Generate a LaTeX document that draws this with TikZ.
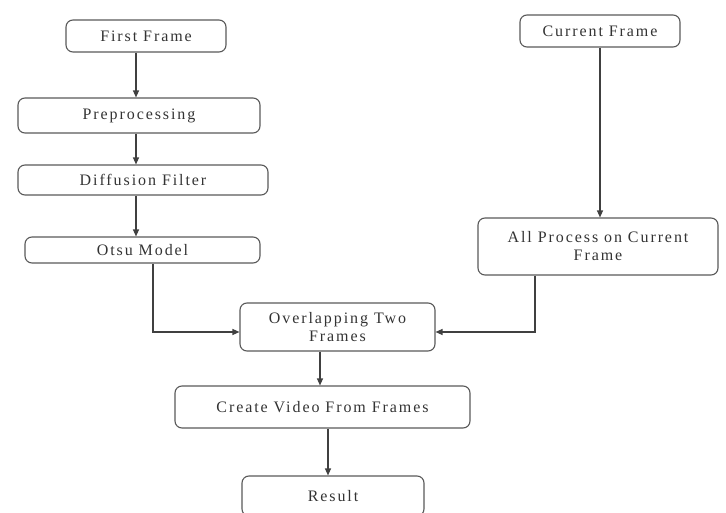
\documentclass[tikz,border=0pt]{standalone}
\usepackage{fontspec}
\setmainfont{Liberation Serif}[LetterSpace=12]
\usepackage{tikz}
\usetikzlibrary{arrows.meta,calc}
\tikzset{
  stage/.style = {rectangle, rounded corners=7pt, draw=black!65, line width=1.1pt,
                  text=black!80, font=\fontsize{16}{18}\selectfont, align=center,
                  inner sep=0pt},
  flow/.style  = {draw=black!75, line width=1.2pt,
                  -{Triangle[length=7pt,width=6pt]}},
}

\begin{document}
\begin{tikzpicture}[x=1pt,y=-1pt]
\useasboundingbox (0,0) rectangle (726,513);

%── left branch: first frame ───────────────────────────────────────
\node[stage, minimum width=160pt, minimum height=32pt] (ff)   at (146,36)    {First Frame};
\node[stage, minimum width=242pt, minimum height=35pt] (pre)  at (139,115.5) {Preprocessing};
\node[stage, minimum width=250pt, minimum height=30pt] (dif)  at (143,180)   {Diffusion Filter};
\node[stage, minimum width=235pt, minimum height=26pt] (otsu) at (142.5,250) {Otsu Model};

%── right branch: current frame ─────────────────────────────────────
\node[stage, minimum width=160pt, minimum height=32pt] (cf)  at (600,31)    {Current Frame};
\node[stage, minimum width=240pt, minimum height=57pt] (apc) at (598,246.5) {All Process on Current\\Frame};

%── merge and output ───────────────────────────────────────────────
\node[stage, minimum width=195pt, minimum height=48pt] (ovl) at (337.5,327) {Overlapping Two\\Frames};
\node[stage, minimum width=295pt, minimum height=42pt] (vid) at (322.5,407) {Create Video From Frames};
\node[stage, minimum width=182pt, minimum height=40pt] (res) at (333,496)   {Result};

% connector columns / join rows
\coordinate (lx) at (136,0);
\coordinate (jl) at (153,332);
\coordinate (jr) at (535,332);
\coordinate (mx) at (320,0);
\coordinate (rx) at (328,0);

% left chain
\draw[flow] (ff.south -| lx)  -- (pre.north -| lx);
\draw[flow] (pre.south -| lx) -- (dif.north -| lx);
\draw[flow] (dif.south -| lx) -- (otsu.north -| lx);
% right chain
\draw[flow] (cf.south) -- (apc.north -| cf.south);
% both into the overlap
\draw[flow] (otsu.south -| jl) |- (ovl.west |- jl);
\draw[flow] (apc.south -| jr)  |- (ovl.east |- jr);
% down to the result
\draw[flow] (ovl.south -| mx) -- (vid.north -| mx);
\draw[flow] (vid.south -| rx) -- (res.north -| rx);

\end{tikzpicture}
\end{document}
